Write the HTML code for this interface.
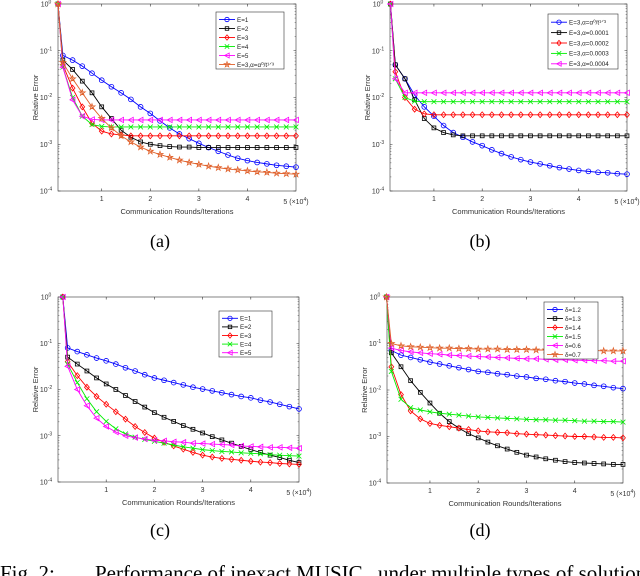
<!DOCTYPE html>
<html><head><meta charset="utf-8"><style>
body{margin:0;background:#fff;}
svg{display:block;font-family:"Liberation Sans",sans-serif;}
</style></head><body>
<svg id="fig" width="640" height="576" viewBox="0 0 640 576">
<text x="160" y="247" font-family="Liberation Serif" font-size="18" text-anchor="middle">(a)</text>
<text x="480" y="247" font-family="Liberation Serif" font-size="18" text-anchor="middle">(b)</text>
<text x="160" y="536" font-family="Liberation Serif" font-size="18" text-anchor="middle">(c)</text>
<text x="480" y="536" font-family="Liberation Serif" font-size="18" text-anchor="middle">(d)</text>
<text y="580" font-family="Liberation Serif" font-size="21"><tspan x="0">Fig. 2:</tspan><tspan x="95">Performance of inexact MUSIC</tspan><tspan x="378">under multiple types of solutions</tspan></text>
</svg>
<script>
const xs=[0.1,0.2,0.4,0.6,0.8,1.0,1.2,1.4,1.6,1.8,2.0,2.2,2.4,2.6,2.8,3.0,3.2,3.4,3.6,3.8,4.0,4.2,4.4,4.6,4.8,5.0];
const xTicks=[1,2,3,4];
const yTicks=[0,-1,-2,-3,-4];
// log10 relative error values
const A1=[0,-1.1,-1.2,-1.33,-1.48,-1.63,-1.77,-1.9,-2.04,-2.2,-2.34,-2.5,-2.65,-2.78,-2.88,-2.98,-3.07,-3.15,-3.23,-3.3,-3.35,-3.39,-3.42,-3.45,-3.47,-3.49];
const A2=[0,-1.2,-1.4,-1.65,-1.9,-2.2,-2.45,-2.7,-2.85,-2.95,-3.0,-3.03,-3.05,-3.06,-3.06,-3.07,-3.07,-3.07,-3.07,-3.07,-3.07,-3.07,-3.07,-3.07,-3.07,-3.07];
const A3=[0,-1.3,-1.8,-2.2,-2.55,-2.72,-2.78,-2.8,-2.82,-2.82,-2.82,-2.82,-2.82,-2.82,-2.82,-2.82,-2.82,-2.82,-2.82,-2.82,-2.82,-2.82,-2.82,-2.82,-2.82,-2.82];
const A4=[0,-1.35,-2.0,-2.4,-2.58,-2.62,-2.63,-2.63,-2.63,-2.63,-2.63,-2.63,-2.63,-2.63,-2.63,-2.63,-2.63,-2.63,-2.63,-2.63,-2.63,-2.63,-2.63,-2.63,-2.63,-2.63];
const A5=[0,-1.35,-2.05,-2.4,-2.47,-2.48,-2.48,-2.48,-2.48,-2.48,-2.48,-2.48,-2.48,-2.48,-2.48,-2.48,-2.48,-2.48,-2.48,-2.48,-2.48,-2.48,-2.48,-2.48,-2.48,-2.48];
const A6=[0,-1.25,-1.6,-1.9,-2.2,-2.45,-2.65,-2.82,-2.95,-3.06,-3.15,-3.22,-3.28,-3.34,-3.39,-3.43,-3.47,-3.5,-3.53,-3.55,-3.57,-3.59,-3.6,-3.62,-3.63,-3.64];
const B1=[0,-1.3,-1.6,-1.95,-2.2,-2.4,-2.6,-2.75,-2.85,-2.95,-3.03,-3.12,-3.2,-3.27,-3.33,-3.38,-3.42,-3.46,-3.5,-3.53,-3.56,-3.58,-3.6,-3.61,-3.63,-3.64];
const B2=[0,-1.3,-1.6,-2.05,-2.45,-2.65,-2.75,-2.8,-2.82,-2.82,-2.82,-2.82,-2.82,-2.82,-2.82,-2.82,-2.82,-2.82,-2.82,-2.82,-2.82,-2.82,-2.82,-2.82,-2.82,-2.82];
const B3=[0,-1.45,-2.0,-2.25,-2.35,-2.37,-2.37,-2.37,-2.37,-2.37,-2.37,-2.37,-2.37,-2.37,-2.37,-2.37,-2.37,-2.37,-2.37,-2.37,-2.37,-2.37,-2.37,-2.37,-2.37,-2.37];
const B4=[0,-1.6,-2.0,-2.08,-2.09,-2.09,-2.09,-2.09,-2.09,-2.09,-2.09,-2.09,-2.09,-2.09,-2.09,-2.09,-2.09,-2.09,-2.09,-2.09,-2.09,-2.09,-2.09,-2.09,-2.09,-2.09];
const B5=[0,-1.6,-1.9,-1.9,-1.9,-1.9,-1.9,-1.9,-1.9,-1.9,-1.9,-1.9,-1.9,-1.9,-1.9,-1.9,-1.9,-1.9,-1.9,-1.9,-1.9,-1.9,-1.9,-1.9,-1.9,-1.9];
const C1=[0,-1.1,-1.18,-1.25,-1.32,-1.38,-1.45,-1.53,-1.6,-1.68,-1.75,-1.8,-1.85,-1.9,-1.95,-1.99,-2.03,-2.07,-2.11,-2.15,-2.18,-2.23,-2.27,-2.32,-2.37,-2.42];
const C2=[0,-1.3,-1.45,-1.6,-1.75,-1.88,-2.0,-2.13,-2.26,-2.38,-2.5,-2.6,-2.69,-2.78,-2.86,-2.94,-3.02,-3.09,-3.16,-3.23,-3.3,-3.36,-3.42,-3.47,-3.53,-3.58];
const C3=[0,-1.4,-1.7,-1.95,-2.15,-2.32,-2.48,-2.64,-2.8,-2.93,-3.05,-3.14,-3.22,-3.29,-3.36,-3.42,-3.46,-3.49,-3.51,-3.53,-3.55,-3.57,-3.58,-3.6,-3.61,-3.62];
const C4=[0,-1.45,-1.85,-2.2,-2.48,-2.69,-2.85,-2.96,-3.03,-3.08,-3.12,-3.16,-3.2,-3.24,-3.27,-3.3,-3.32,-3.34,-3.35,-3.37,-3.38,-3.39,-3.41,-3.42,-3.43,-3.44];
const C5=[0,-1.5,-2.0,-2.35,-2.62,-2.8,-2.92,-3.0,-3.04,-3.07,-3.1,-3.11,-3.13,-3.14,-3.16,-3.17,-3.18,-3.19,-3.2,-3.22,-3.23,-3.24,-3.25,-3.25,-3.26,-3.27];
const D1=[0,-1.15,-1.25,-1.3,-1.35,-1.4,-1.44,-1.48,-1.52,-1.56,-1.6,-1.62,-1.65,-1.67,-1.7,-1.72,-1.75,-1.77,-1.8,-1.82,-1.85,-1.87,-1.9,-1.92,-1.95,-1.97];
const D2=[0,-1.2,-1.5,-1.8,-2.05,-2.28,-2.5,-2.68,-2.82,-2.94,-3.03,-3.12,-3.2,-3.27,-3.34,-3.4,-3.44,-3.48,-3.51,-3.54,-3.56,-3.57,-3.58,-3.59,-3.6,-3.6];
const D3=[0,-1.5,-2.1,-2.45,-2.62,-2.72,-2.76,-2.79,-2.82,-2.85,-2.88,-2.9,-2.91,-2.92,-2.94,-2.95,-2.96,-2.97,-2.98,-2.99,-3.0,-3.0,-3.01,-3.02,-3.02,-3.03];
const D4=[0,-1.6,-2.2,-2.38,-2.43,-2.47,-2.5,-2.52,-2.54,-2.56,-2.58,-2.59,-2.6,-2.61,-2.62,-2.63,-2.64,-2.64,-2.65,-2.65,-2.66,-2.67,-2.67,-2.68,-2.68,-2.69];
const D5=[0,-1.1,-1.15,-1.18,-1.2,-1.22,-1.23,-1.25,-1.26,-1.27,-1.28,-1.29,-1.3,-1.31,-1.32,-1.33,-1.33,-1.34,-1.35,-1.35,-1.36,-1.36,-1.37,-1.37,-1.38,-1.38];
const D6=[0,-1.0,-1.05,-1.07,-1.08,-1.09,-1.1,-1.1,-1.11,-1.11,-1.12,-1.12,-1.12,-1.13,-1.13,-1.13,-1.14,-1.14,-1.14,-1.15,-1.15,-1.15,-1.15,-1.16,-1.16,-1.16];
const namesA=["E=1","E=2","E=3","E=4","E=5","E=3,α=α⁰/t¹ᐟ³"];
const namesB=["E=3,α=α⁰/t¹ᐟ³","E=3,α=0.0001","E=3,α=0.0002","E=3,α=0.0003","E=3,α=0.0004"];
const namesC=["E=1","E=2","E=3","E=4","E=5"];
const namesD=["δ=1.2","δ=1.3","δ=1.4","δ=1.5","δ=0.6","δ=0.7"];

const NS="http://www.w3.org/2000/svg";
const svg=document.getElementById('fig');
const styles=[["#0000ff","o"],["#000000","s"],["#ff0000","d"],["#00ee00","x"],["#ff00ff","<"],["#e0602a","*"]];
function mk(t,a,p){const e=document.createElementNS(NS,t);for(const k in a)e.setAttribute(k,a[k]);(p||svg).appendChild(e);return e;}
function marker(g,type,x,y,c,s){
  s=s||2.4;let e;
  if(type==="o")e=mk('circle',{cx:x,cy:y,r:s,fill:'none',stroke:c,'stroke-width':0.8},g);
  else if(type==="s")e=mk('rect',{x:x-s*0.8,y:y-s*0.8,width:s*1.6,height:s*1.6,fill:'none',stroke:c,'stroke-width':0.8},g);
  else if(type==="d")e=mk('polygon',{points:`${x},${y-s*1.2} ${x+s},${y} ${x},${y+s*1.2} ${x-s},${y}`,fill:'none',stroke:c,'stroke-width':0.8},g);
  else if(type==="x")e=mk('path',{d:`M${x-s} ${y-s}L${x+s} ${y+s}M${x-s} ${y+s}L${x+s} ${y-s}`,stroke:c,'stroke-width':0.8},g);
  else if(type==="<")e=mk('polygon',{points:`${x-s*1.1},${y} ${x+s},${y-s*1.1} ${x+s},${y+s*1.1}`,fill:'none',stroke:c,'stroke-width':0.8},g);
  else {let p=[];for(let i=0;i<10;i++){const r=i%2?s*0.5:s*1.3,a=-Math.PI/2+i*Math.PI/5;p.push((x+r*Math.cos(a)).toFixed(2)+','+(y+r*Math.sin(a)).toFixed(2));}
    e=mk('polygon',{points:p.join(' '),fill:'none',stroke:c,'stroke-width':0.8},g);}
  
  
}
function panel(id,L,R,T,B,xmin,series,names,leg){
  const g=mk('g',{});
  
  
  const X=v=>L+(v-xmin)/(5-xmin)*(R-L);
  const Y=v=>T+(-v)/4*(B-T);
  const box=mk('rect',{x:L,y:T,width:R-L,height:B-T,fill:'#fff',stroke:'#333','stroke-width':0.6},g);
  
  
  xTicks.forEach(t=>{
    const x=X(t);
    mk('path',{d:`M${x} ${B}v-2.5M${x} ${T}v2.5`,stroke:'#333','stroke-width':0.6},g);
    const tl=mk('text',{x:x,y:B+10,'font-size':7,'text-anchor':'middle',fill:'#333'},g);
    tl.textContent=t;
    
    
  });
  const xl=mk('text',{x:R,y:B+13,'font-size':7,'text-anchor':'middle',fill:'#333'},g);
  xl.innerHTML='5 (×10<tspan dy="-3" font-size="5">4</tspan><tspan dy="3">)</tspan>';
  
  
  yTicks.forEach(t=>{
    const y=Y(t);
    mk('path',{d:`M${L} ${y}h2.5M${R} ${y}h-2.5`,stroke:'#333','stroke-width':0.6},g);
    if(t>-4)for(let k=2;k<10;k++){const yy=Y(t-1+Math.log10(k));mk('path',{d:`M${L} ${yy}h1.4M${R} ${yy}h-1.4`,stroke:'#333','stroke-width':0.4},g);}
    const tl=mk('text',{x:L-12,y:y+2.5,'font-size':7,'text-anchor':'middle',fill:'#333'},g);
    tl.innerHTML='10<tspan dy="-3" font-size="5">'+(t===0?'0':t)+'</tspan>';
    
    
  });
  const yt=mk('text',{x:0,y:0,'font-size':7.5,'text-anchor':'middle',fill:'#333',transform:`translate(${L-20},${(T+B)/2}) rotate(-90)`},g);
  yt.textContent='Relative Error';
  
  
  const xt=mk('text',{x:(L+R)/2,y:B+23,'font-size':7.5,'text-anchor':'middle',fill:'#333'},g);
  xt.textContent='Communication Rounds/Iterations';
  
  
  series.forEach((vals,i)=>{
    const [c,m]=styles[i];
    const pts=xs.map((x,j)=>X(x).toFixed(2)+','+Y(vals[j]).toFixed(2)).join(' ');
    const pl=mk('polyline',{points:pts,fill:'none',stroke:c,'stroke-width':0.9},g);
    
    
    xs.forEach((x,j)=>marker(g,m,X(x),Y(vals[j]),c));
  });
  const [lx,ly,lw,rh]=leg;
  const lb=mk('rect',{x:lx,y:ly,width:lw,height:rh*names.length+3,fill:'#fff',stroke:'#333','stroke-width':0.6},g);
  
  
  names.forEach((n,i)=>{
    const [c,m]=styles[i];const yy=ly+3+rh*(i+0.5);
    mk('line',{x1:lx+3,x2:lx+19,y1:yy,y2:yy,stroke:c,'stroke-width':0.9},g);
    marker(g,m,lx+11,yy,c,2.2);
    const t=mk('text',{x:lx+21,y:yy+2.3,'font-size':6.3,fill:'#222'},g);
    t.textContent=n;
    
    
  });
}
panel('a',58,296,4,191,0.1,[A1,A2,A3,A4,A5,A6],namesA,[216,12,68,9]);
panel('b',390,627,4,191,0.09,[B1,B2,B3,B4,B5],namesB,[548,14,70,10.4]);
panel('c',58,299,297,482,0.0,[C1,C2,C3,C4,C5],namesC,[219,311,53,8.6]);
panel('d',387,623,297,483,0.11,[D1,D2,D3,D4,D5,D6],namesD,[544,302,54,9]);
</script>
</body></html>
